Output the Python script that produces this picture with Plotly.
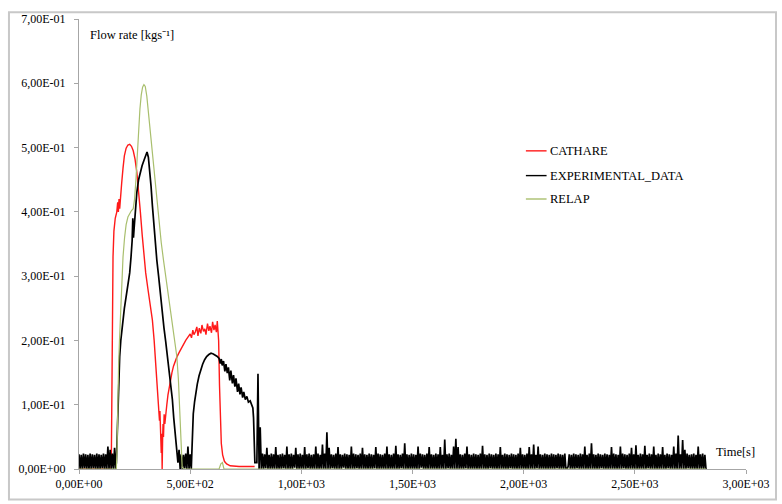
import numpy as np
import plotly.graph_objects as go

# ---- CATHARE calculation: flow rate [kg/s] vs time [s]
cathare_t = [0, 145, 148, 150, 153, 157, 163, 170, 174, 177, 180, 183, 186, 192, 198, 204,
             212, 220, 228, 236, 244, 252, 260, 268, 276, 284, 292, 300, 310, 320, 330, 338,
             346, 352, 357, 360, 362, 364, 366, 368, 370, 372, 374, 376, 378, 380, 383, 386,
             390, 395, 400, 406, 412, 418, 425, 432, 440, 450, 460, 470, 480, 490, 500, 506,
             512, 517, 523, 530, 535, 541, 548, 553, 560, 566, 571, 578, 584, 589, 596, 601,
             607, 612, 618, 622, 625, 628, 632, 636, 640, 646, 654, 664, 680, 720, 760, 790]
cathare_q = [0, 0, 0.12, 0.25, 0.33, 0.37, 0.39, 0.4, 0.415, 0.4, 0.42, 0.405, 0.425, 0.445, 0.468, 0.487,
             0.499, 0.504, 0.505, 0.502, 0.495, 0.482, 0.462, 0.435, 0.4, 0.365, 0.333, 0.305, 0.28, 0.258, 0.232, 0.2,
             0.16, 0.13, 0.11, 0.095, 0.075, 0.09, 0.05, 0.075, 0.025, 0.055, 0.0, 0.045, 0.07, 0.05, 0.085, 0.07,
             0.09, 0.1, 0.115, 0.128, 0.14, 0.15, 0.16, 0.167, 0.174, 0.181, 0.188, 0.195, 0.2, 0.205, 0.21, 0.204,
             0.216, 0.209, 0.213, 0.221, 0.207, 0.219, 0.211, 0.224, 0.214, 0.218, 0.209, 0.226, 0.215, 0.222, 0.212, 0.229,
             0.216, 0.224, 0.213, 0.23, 0.219, 0.2, 0.13, 0.07, 0.04, 0.022, 0.012, 0.008, 0.005, 0.004, 0.004, 0.004]

# ---- RELAP calculation
relap_t = [0, 168, 171, 174, 178, 182, 186, 192, 198, 205, 212, 220, 228, 236, 244, 250,
           256, 262, 268, 274, 280, 286, 292, 298, 305, 312, 320, 330, 340, 350, 360, 370,
           380, 390, 400, 410, 420, 430, 440, 447, 452, 456, 460, 464, 470, 630, 638, 645,
           652, 2820]
relap_q = [0, 0, 0.03, 0.1, 0.16, 0.2, 0.235, 0.29, 0.33, 0.36, 0.38, 0.392, 0.398, 0.402, 0.405, 0.42,
           0.45, 0.49, 0.53, 0.56, 0.582, 0.594, 0.598, 0.595, 0.58, 0.555, 0.525, 0.487, 0.45, 0.415, 0.382, 0.352,
           0.325, 0.3, 0.276, 0.252, 0.23, 0.205, 0.175, 0.14, 0.1, 0.06, 0.025, 0.003, 0, 0, 0.008, 0.01,
           0, 0]

# ---- Experimental data (5 s sampling in the quiet phases)
exp_noise_early = [0.023, 0, 0.022, 0, 0.024, 0.001, 0.023, 0, 0.022, 0, 0.024, 0, 0.023, 0.001,
                   0.022, 0, 0.024, 0, 0.023, 0, 0.022, 0.001, 0.024, 0, 0.023, 0, 0.035, 0,
                   0.03, 0, 0.024, 0, 0.033, 0]                       # t = 0 ... 165 s
exp_peak1_t = [168, 171, 174, 178, 183, 188, 196, 204, 212, 220, 228, 234, 239, 242, 245, 248,
               253, 260, 268, 276, 284, 292, 300, 306, 312, 318, 324, 330, 336, 342, 350, 358,
               366, 374, 382, 390, 398, 406, 414, 420, 426, 432, 438, 443]
exp_peak1_q = [0.01, 0.05, 0.1, 0.14, 0.175, 0.2, 0.229, 0.25, 0.268, 0.285, 0.305, 0.33, 0.355, 0.39, 0.36, 0.375,
               0.405, 0.43, 0.45, 0.462, 0.472, 0.48, 0.488, 0.493, 0.485, 0.465, 0.44, 0.41, 0.38, 0.355, 0.325, 0.3,
               0.27, 0.245, 0.22, 0.198, 0.175, 0.152, 0.128, 0.108, 0.08, 0.055, 0.03, 0.01]
exp_noise_mid = [0.01, 0.03, 0, 0.023, 0, 0.022, 0.001, 0.024, 0, 0.035, 0, 0.023, 0.0]   # t = 445 ... 505 s
exp_peak2_t = [507, 510, 514, 520, 526, 532, 540, 548, 556, 565, 574, 584, 594, 604, 614, 622,
               630, 635, 640, 644, 650, 656, 661, 667, 672, 678, 683, 690, 695, 701, 706, 713,
               718, 724, 729, 736, 741, 748, 755, 762, 770, 778, 782, 785, 788, 791]
exp_peak2_q = [0.02, 0.06, 0.086, 0.105, 0.12, 0.132, 0.145, 0.155, 0.163, 0.17, 0.175, 0.178, 0.18, 0.179, 0.177, 0.175,
               0.172, 0.164, 0.171, 0.161, 0.168, 0.152, 0.163, 0.149, 0.158, 0.138, 0.153, 0.133, 0.146, 0.128, 0.141, 0.12,
               0.133, 0.116, 0.127, 0.111, 0.12, 0.108, 0.113, 0.104, 0.106, 0.097, 0.095, 0.08, 0.045, 0.01]
exp_noise_late = [                                                    # t = 800 ... 2820 s
    0.01, 0.148, 0, 0.065, 0, 0.024, 0, 0.023, 0.001, 0.033, 0, 0.022, 0, 0.024, 0, 0.023, 0, 0.034, 0, 0.022,
    0, 0.023, 0, 0.024, 0.001, 0.022, 0, 0.035, 0, 0.023, 0, 0.024, 0, 0.022, 0.002, 0.033, 0, 0.023, 0, 0.024,
    0, 0.022, 0, 0.034, 0, 0.023, 0.001, 0.024, 0, 0.022, 0, 0.023, 0, 0.035, 0, 0.024, 0, 0.022, 0, 0.038,
    0, 0.024, 0, 0.057, 0, 0.033, 0, 0.023, 0.001, 0.022, 0, 0.024, 0, 0.034, 0, 0.023, 0, 0.022, 0.002, 0.024,
    0, 0.023, 0, 0.022, 0, 0.035, 0, 0.024, 0, 0.023, 0.001, 0.022, 0, 0.024, 0, 0.033, 0, 0.023, 0, 0.022,
    0, 0.024, 0, 0.023, 0, 0.022, 0.001, 0.034, 0, 0.024, 0, 0.023, 0, 0.022, 0, 0.024, 0, 0.035, 0, 0.023,
    0, 0.022, 0, 0.024, 0, 0.036, 0, 0.023, 0, 0.022, 0.001, 0.024, 0, 0.04, 0, 0.023, 0, 0.022, 0, 0.024,
    0, 0.023, 0, 0.022, 0, 0.035, 0, 0.024, 0.002, 0.023, 0, 0.022, 0, 0.024, 0, 0.034, 0, 0.023, 0, 0.022,
    0, 0.024, 0, 0.023, 0, 0.034, 0, 0.022, 0, 0.046, 0, 0.023, 0.001, 0.024, 0, 0.022, 0, 0.035, 0, 0.047,
    0, 0.034, 0, 0.023, 0, 0.022, 0, 0.024, 0.001, 0.035, 0, 0.023, 0, 0.022, 0, 0.024, 0, 0.023, 0, 0.022,
    0, 0.024, 0, 0.036, 0, 0.023, 0, 0.022, 0, 0.024, 0.001, 0.023, 0, 0.022, 0, 0.024, 0, 0.023, 0, 0.034,
    0, 0.022, 0, 0.024, 0, 0.023, 0, 0.022, 0.001, 0.024, 0, 0.023, 0, 0.022, 0, 0.024, 0, 0.033, 0, 0.023,
    0, 0.022, 0, 0.024, 0, 0.034, 0, 0.023, 0, 0.038, 0, 0.022, 0.001, 0.035, 0, 0.023, 0, 0.022, 0, 0.024,
    0, 0.023, 0, 0.022, 0, 0.024, 0, 0.023, 0, 0.022, 0.001, 0.024, 0, 0.023, 0, 0.022, 0, 0.024, 0, 0.0,
    0.004, 0.023, 0, 0.022, 0, 0.024, 0, 0.023, 0.001, 0.022, 0, 0.024, 0, 0.023, 0, 0.035, 0, 0.022, 0, 0.024,
    0, 0.04, 0, 0.023, 0, 0.022, 0, 0.024, 0, 0.023, 0.001, 0.022, 0, 0.024, 0, 0.023, 0, 0.022, 0, 0.034,
    0, 0.024, 0, 0.023, 0, 0.022, 0, 0.035, 0, 0.024, 0.001, 0.023, 0, 0.022, 0, 0.024, 0, 0.033, 0, 0.023,
    0, 0.037, 0, 0.022, 0, 0.024, 0, 0.023, 0, 0.036, 0, 0.022, 0.001, 0.024, 0, 0.023, 0, 0.035, 0, 0.022,
    0, 0.024, 0, 0.023, 0, 0.034, 0, 0.022, 0, 0.024, 0.001, 0.023, 0, 0.022, 0, 0.035, 0, 0.024, 0, 0.052,
    0, 0.023, 0, 0.045, 0, 0.03, 0, 0.024, 0.001, 0.022, 0, 0.023, 0, 0.024, 0, 0.022, 0, 0.035, 0, 0.023,
    0, 0.024, 0, 0.022, 0.0,
]
SAMPLE_DT = 5  # s, logger period in the quiet phases

exp_t = (list(np.arange(len(exp_noise_early)) * SAMPLE_DT)
         + exp_peak1_t
         + list(445 + np.arange(len(exp_noise_mid)) * SAMPLE_DT)
         + exp_peak2_t
         + list(800 + np.arange(len(exp_noise_late)) * SAMPLE_DT))
exp_q = exp_noise_early + exp_peak1_q + exp_noise_mid + exp_peak2_q + exp_noise_late

# ---- axis ticks
x_tickvals = [0, 500, 1000, 1500, 2000, 2500, 3000]
x_ticktext = ["0,00E+00", "5,00E+02", "1,00E+03", "1,50E+03", "2,00E+03", "2,50E+03", "3,00E+03"]
y_tickvals = [0, 0.1, 0.2, 0.3, 0.4, 0.5, 0.6, 0.7]
y_ticktext = ["0,00E+00", "1,00E-01", "2,00E-01", "3,00E-01", "4,00E-01", "5,00E-01", "6,00E-01", "7,00E-01"]

series_names = ["CATHARE", "EXPERIMENTAL_DATA", "RELAP"]
series_colors = ["#ff1a1a", "#000000", "#a9bf6e"]
series_widths = [1.4, 1.7, 1.2]
series_data = [(cathare_t, cathare_q), (exp_t, exp_q), (relap_t, relap_q)]

FONT = "Liberation Serif, Times New Roman, serif"
TXT = "#000000"
AXIS = "#a6a6a6"

fig = go.Figure()
for name, color, w, (t, q) in zip(series_names, series_colors, series_widths, series_data):
    fig.add_trace(go.Scatter(x=t, y=q, mode="lines", name=name,
                             line=dict(color=color, width=w), showlegend=False))

# legend drawn as short line samples with labels
legend_x0, legend_x1, legend_tx = 0.670, 0.701, 0.703
legend_rows = [0.707, 0.652, 0.600]
for name, color, y in zip(series_names, series_colors, legend_rows):
    fig.add_shape(type="line", xref="paper", yref="paper", x0=legend_x0, x1=legend_x1,
                  y0=y, y1=y, line=dict(color=color, width=1.4))
    fig.add_annotation(xref="paper", yref="paper", x=legend_tx, y=y, text=name,
                       showarrow=False, xanchor="left", yanchor="middle",
                       font=dict(family=FONT, size=12.5, color=TXT))

# axis titles placed inside the plot area
fig.add_annotation(xref="paper", yref="paper", x=0.014, y=0.965,
                   text="Flow rate [kgs⁻¹]", showarrow=False,
                   xanchor="left", yanchor="middle", font=dict(family=FONT, size=12.5, color=TXT))
fig.add_annotation(xref="paper", yref="paper", x=0.985, y=0.038, text="Time[s]",
                   showarrow=False, xanchor="center", yanchor="middle",
                   font=dict(family=FONT, size=12.5, color=TXT))

# outer chart frame
fig.add_shape(type="rect", xref="paper", yref="paper", x0=-0.105, x1=1.045, y0=-0.068, y1=1.015,
              line=dict(color="#c8c8c8", width=2), layer="below")

fig.update_layout(
    width=782, height=504,
    margin=dict(l=78.5, r=34, t=14, b=35),
    paper_bgcolor="white", plot_bgcolor="white",
    font=dict(family=FONT, size=12, color=TXT),
)
fig.update_xaxes(range=[0, 3000], tickvals=x_tickvals, ticktext=x_ticktext,
                 showline=True, linecolor=AXIS, linewidth=1, ticks="outside", ticklen=4,
                 tickcolor=AXIS, showgrid=False, zeroline=False)
fig.update_yaxes(range=[0, 0.7], tickvals=y_tickvals, ticktext=y_ticktext,
                 showline=True, linecolor=AXIS, linewidth=1, ticks="outside", ticklen=4,
                 tickcolor=AXIS, showgrid=False, zeroline=False, ticklabelstandoff=6)

fig.write_html("out.html")
